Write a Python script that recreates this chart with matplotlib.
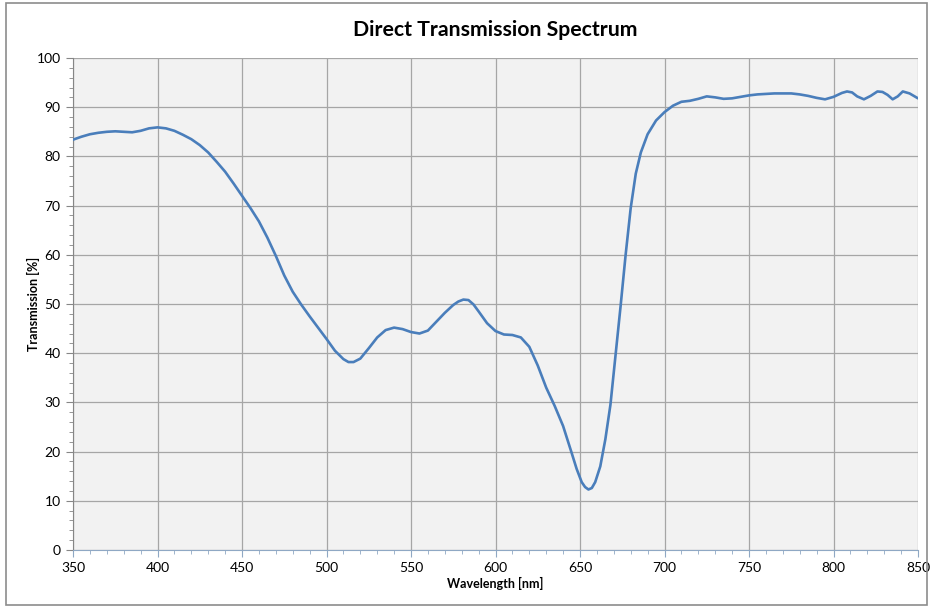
import numpy as np
import matplotlib.pyplot as plt
from matplotlib.patches import Rectangle
from matplotlib.ticker import MultipleLocator

# wavelength [nm] and transmission [%]
wavelength = [350, 355, 360, 365, 370, 375, 380, 385, 390, 395,
              400, 405, 410, 415, 420, 425, 430, 435, 440, 445,
              450, 455, 460, 465, 470, 475, 480, 485, 490, 495,
              500, 505, 510, 513, 516, 520, 525, 530, 535, 540, 545,
              550, 555, 560, 565, 570, 575, 578, 581, 584, 587, 590, 595,
              600, 605, 610, 615, 620, 625, 630, 635, 640, 645,
              648, 651, 653, 655, 657, 659, 662, 665, 668, 671, 674, 677,
              680, 683, 686, 690, 695, 700, 705, 710, 715, 720,
              725, 730, 735, 740, 745, 750, 755, 760, 765, 770,
              775, 780, 785, 790, 795, 800, 805, 808, 811, 814,
              818, 822, 826, 829, 832, 835, 838, 841, 845, 848, 850]
transmission = [83.4, 84.0, 84.5, 84.8, 85.0, 85.1, 85.0, 84.9, 85.2, 85.7,
                85.9, 85.7, 85.2, 84.4, 83.5, 82.3, 80.8, 78.9, 76.9, 74.5,
                72.0, 69.5, 66.8, 63.5, 59.8, 55.8, 52.5, 49.9, 47.5, 45.2,
                42.9, 40.5, 38.8, 38.2, 38.2, 38.9, 41.0, 43.2, 44.7, 45.2, 44.9,
                44.3, 44.0, 44.6, 46.4, 48.2, 49.8, 50.5, 50.9, 50.8, 49.9, 48.5, 46.1,
                44.5, 43.8, 43.7, 43.2, 41.3, 37.5, 33.0, 29.3, 25.2, 19.8,
                16.5, 13.8, 12.8, 12.3, 12.6, 13.8, 17.0, 22.5, 29.5, 39.5, 49.5, 60.0,
                69.5, 76.5, 80.8, 84.5, 87.3, 89.0, 90.3, 91.1, 91.3, 91.7,
                92.2, 92.0, 91.7, 91.8, 92.1, 92.4, 92.6, 92.7, 92.8, 92.8,
                92.8, 92.6, 92.3, 91.9, 91.6, 92.1, 92.9, 93.2, 93.0, 92.2,
                91.6, 92.3, 93.2, 93.1, 92.5, 91.6, 92.2, 93.2, 92.8, 92.2, 91.8]

plt.rcParams['font.family'] = ['Lato', 'DejaVu Sans']

fig = plt.figure(figsize=(9.31, 6.08), dpi=100)
fig.patches.append(Rectangle((6 / 931, 3 / 608), 921 / 931, 602 / 608,
                             transform=fig.transFigure, fill=False,
                             edgecolor='#8c8c8c', linewidth=1.2))

ax = fig.add_axes([73 / 931, 58 / 608, 845 / 931, 492 / 608])
ax.set_facecolor('#f2f2f2')

ax.plot(wavelength, transmission, color='#4a7ebb', linewidth=1.9,
        solid_capstyle='round', solid_joinstyle='round', zorder=3)

ax.set_xlim(350, 850)
ax.set_ylim(0, 100)
ax.xaxis.set_major_locator(MultipleLocator(50))
ax.xaxis.set_minor_locator(MultipleLocator(10))
ax.yaxis.set_major_locator(MultipleLocator(10))
ax.yaxis.set_minor_locator(MultipleLocator(2))

ax.grid(True, which='major', color='#a6a6a6', linewidth=0.9)
ax.set_axisbelow(True)

for side in ['top', 'right']:
    ax.spines[side].set_visible(False)
ax.spines['left'].set_color('#868686')
ax.spines['bottom'].set_color('#8fa8c4')

ax.tick_params(axis='y', which='major', length=5, color='#868686',
               labelsize=10, pad=4)
ax.tick_params(axis='y', which='minor', length=3, color='#868686')
ax.tick_params(axis='x', which='major', length=5, color='#8fa8c4',
               labelsize=10, pad=4)
ax.tick_params(axis='x', which='minor', length=3, color='#8fa8c4')

ax.set_title('Direct Transmission Spectrum', fontsize=15.3, fontweight='bold',
             pad=16)
ax.set_xlabel('Wavelength [nm]', fontsize=9, fontweight='bold', va='center')
ax.set_ylabel('Transmission [%]', fontsize=9, fontweight='bold', va='center')
ax.xaxis.set_label_coords(0.5, -33 / 492)
ax.yaxis.set_label_coords(-40 / 845, 0.5)

fig.savefig('out.png', dpi=100)
